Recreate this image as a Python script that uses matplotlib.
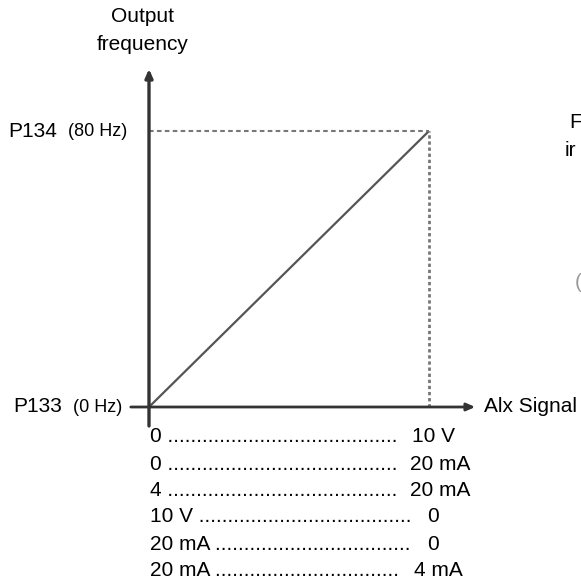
import matplotlib.pyplot as plt

# 数据
signal = [0, 10]          # AIx 信号 (0 ... 10 V)
freq = [0, 80]            # 输出频率 Hz
p_low = 'P133'
p_low_hz = '(0 Hz)'
p_high = 'P134'
p_high_hz = '(80 Hz)'
rows_left = ['0', '0', '4', '10 V', '20 mA', '20 mA']
rows_right = ['10 V', '20 mA', '20 mA', '0', '0', '4 mA']
rows_dots = [40, 40, 40, 37, 34, 32]

plt.rcParams['font.family'] = ['Liberation Sans', 'DejaVu Sans']

W, H = 581, 579
fig = plt.figure(figsize=(W / 100, H / 100), dpi=100)

# 坐标轴: 原点 (149, 407) 像素, (10, 80) 在 (429, 131)
x0, y0, x1, y1 = 149, 407, 429, 131
ax = fig.add_axes([x0 / W, 1 - y0 / H, (x1 - x0) / W, (y0 - y1) / H])
ax.set_xlim(0, 10)
ax.set_ylim(0, 80)
ax.axis('off')

ax_col = '#333333'
# 纵轴 (带箭头)
ax.annotate('', xy=(0, 98), xytext=(0, -5.5), annotation_clip=False,
            arrowprops=dict(arrowstyle='-|>,head_length=0.5,head_width=0.22',
                            color=ax_col, lw=2.4, shrinkA=0, shrinkB=0))
# 横轴 (带箭头)
ax.annotate('', xy=(11.65, 0), xytext=(-0.65, 0), annotation_clip=False,
            arrowprops=dict(arrowstyle='-|>,head_length=0.5,head_width=0.22',
                            color=ax_col, lw=2.0, shrinkA=0, shrinkB=0))

# 特性曲线
ax.plot(signal, freq, color='#555555', lw=1.6, clip_on=False, solid_capstyle='butt')
# 虚线
ax.plot([0, signal[1]], [freq[1], freq[1]], color='#777777', lw=1.5,
        ls=(0, (2.2, 1.6)), clip_on=False)
ax.plot([signal[1], signal[1]], [0, freq[1]], color='#777777', lw=2.0,
        ls=(0, (1.2, 1.0)), clip_on=False)


def px(x, y):
    return x / W, 1 - y / H


fs = 15
fs_s = 13
fig.text(*px(143, 17), 'Output', ha='center', va='center', fontsize=fs)
fig.text(*px(143, 45), 'frequency', ha='center', va='center', fontsize=fs)

fig.text(*px(8, 131), p_high, ha='left', va='center', fontsize=fs)
fig.text(*px(127, 131), p_high_hz, ha='right', va='center', fontsize=fs_s)
fig.text(*px(13, 407), p_low, ha='left', va='center', fontsize=fs)
fig.text(*px(122, 407), p_low_hz, ha='right', va='center', fontsize=fs_s)

fig.text(*px(484, 407), 'Alx Signal', ha='left', va='center', fontsize=fs)

# 表格
row_y = [437, 464, 491, 517, 544, 570]
right_x = [412, 410, 410, 427, 427, 414]
for i in range(len(rows_left)):
    fig.text(*px(150, row_y[i]), rows_left[i] + ' ' + '.' * rows_dots[i],
             ha='left', va='center', fontsize=fs)
    fig.text(*px(right_x[i], row_y[i]), rows_right[i], ha='left', va='center', fontsize=fs)

# 右侧被截断的文字
fig.text(*px(569, 123), 'F', ha='left', va='center', fontsize=fs)
fig.text(*px(565, 150), 'ir', ha='left', va='center', fontsize=fs)
fig.text(*px(575, 282), '(', ha='left', va='center', fontsize=fs, color='#999999')

fig.savefig('out.png', dpi=100)
